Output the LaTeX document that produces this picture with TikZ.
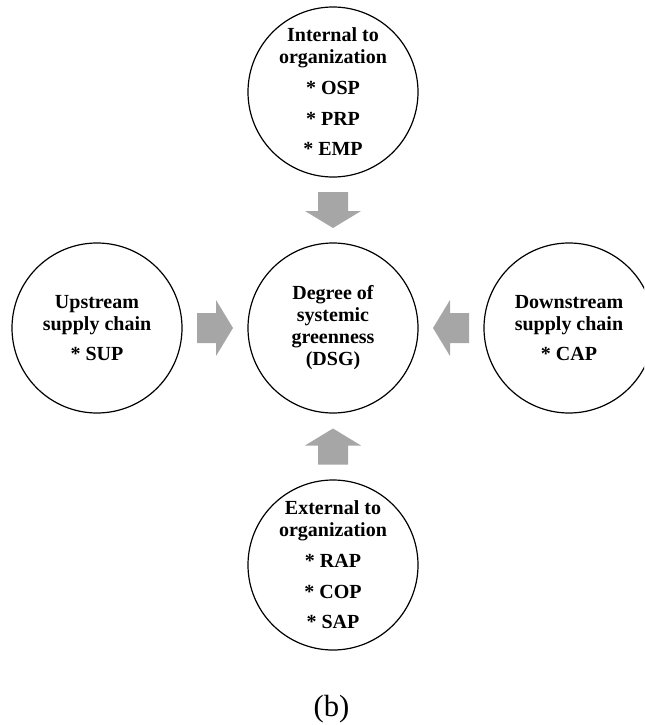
\documentclass[tikz,border=0pt]{standalone}
\usepackage{fontspec}
\setmainfont{Liberation Serif}
\usetikzlibrary{calc}
\definecolor{arrowgray}{RGB}{166,166,166}

\begin{document}
\begin{tikzpicture}[
    x=0.75pt, y=-0.75pt,
    ring/.style={draw, circle, line width=0.9pt, minimum size=127.5pt, inner sep=0pt,
                 align=center, font=\fontsize{15}{16.5}\selectfont\bfseries},
    tag/.style={font=\fontsize{23}{27}\selectfont, inner sep=0pt, anchor=base},
    pics/fatarrow/.style={code={
      \fill[arrowgray] (-18,-15) -- (1,-15) -- (1,-28) -- (18,0) -- (1,28)
                       -- (1,15) -- (-18,15) -- cycle;}}
  ]
    \useasboundingbox (0,0) rectangle (644,725);
    \clip (0,0) rectangle (644,725);

    % Centre circle
    \node[ring] (dsg) at (333,328) {Degree of\\systemic\\greenness\\(DSG)};

    % Surrounding circles
    \node[ring] (int) at (333,92)
      {Internal to\\organization\\[6.5pt]* OSP\\[6.5pt]* PRP\\[6.5pt]* EMP};
    \node[ring] (ext) at (333,565)
      {External to\\organization\\[6.5pt]* RAP\\[6.5pt]* COP\\[6.5pt]* SAP};
    \node[ring] (up) at (97,328) {Upstream\\supply chain\\[6.5pt]* SUP};
    \node[ring] (down) at (569,328) {Downstream\\supply chain\\[6.5pt]* CAP};

    % Block arrows into the centre
    \pic[rotate=-90] at ($(int)!0.5!(dsg)$) {fatarrow};
    \pic[rotate=90]  at ($(ext)!0.5!(dsg)$) {fatarrow};
    \pic             at ($(up)!0.5!(dsg)$) {fatarrow};
    \pic[rotate=180] at ($(down)!0.5!(dsg)$) {fatarrow};

    % Panel label
    \node[tag] (panel) at (331.5,716) {(b)};
  \end{tikzpicture}
\end{document}
